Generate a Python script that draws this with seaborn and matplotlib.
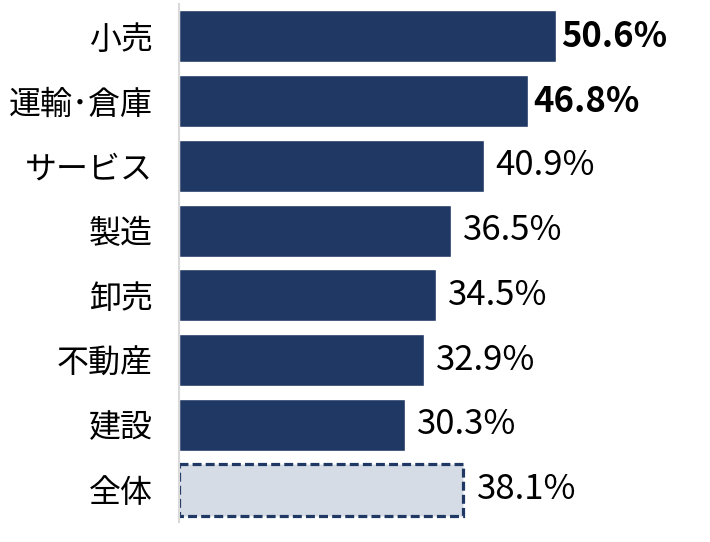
import matplotlib
matplotlib.use("Agg")
import matplotlib.pyplot as plt
import seaborn as sns
import pandas as pd

# 業種別の割合（%）
industries = ["小売", "運輸･倉庫", "サービス", "製造", "卸売", "不動産", "建設", "全体"]
rates = [50.6, 46.8, 40.9, 36.5, 34.5, 32.9, 30.3, 38.1]
bold_labels = ["小売", "運輸･倉庫"]

navy = "#203864"
light = "#D6DCE5"

sns.set_theme(style="white")
plt.rcParams['font.family'] = ['Noto Sans CJK JP', 'DejaVu Sans']

df = pd.DataFrame({"industry": industries, "rate": rates})

fig = plt.figure(figsize=(7.1, 5.42), dpi=100)
ax = fig.add_axes([179 / 710, 20 / 542, 0.74, 518 / 542])

sns.barplot(data=df, x="rate", y="industry", orient="h", color=navy,
            width=0.8, saturation=1, ax=ax)

# 全体のバーは薄い色＋点線の枠
last = ax.patches[-1]
last.set_facecolor(light)
last.set_edgecolor(navy)
last.set_linewidth(2.3)
last.set_linestyle((0, (2.8, 1.3)))

for i, (name, v) in enumerate(zip(industries, rates)):
    if name in bold_labels:
        off, w = 0.7, "bold"
    elif name == "全体":
        off, w = 1.9, "normal"
    else:
        off, w = 1.6, "normal"
    ax.text(v + off, i, f"{v}%", va="center", ha="left", fontsize=25,
            fontweight=w, color="black")

ax.set_xlim(0, 0.74 * 710 / 7.45)
ax.set_ylim(7.5, -0.5)
ax.set_xlabel("")
ax.set_ylabel("")
ax.set_xticks([])
ax.tick_params(axis="y", length=0, pad=19, labelsize=23, colors="black")
for s in ["top", "right", "bottom"]:
    ax.spines[s].set_visible(False)
ax.spines["left"].set_color("#D9D9D9")
ax.spines["left"].set_linewidth(1.5)

fig.savefig("out.png", dpi=100)
